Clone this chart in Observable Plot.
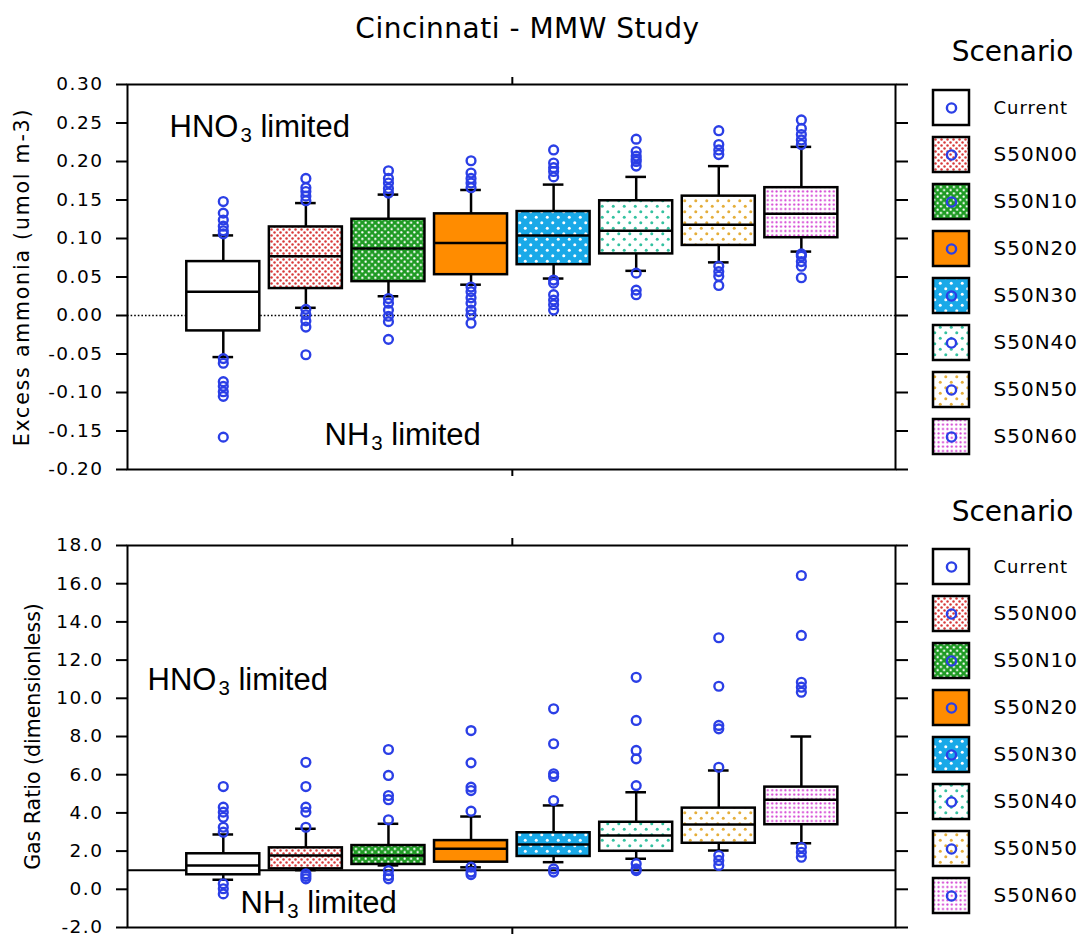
<!DOCTYPE html>
<html>
<head>
<meta charset="utf-8">
<script src="https://cdn.jsdelivr.net/npm/d3@7"></script>
<script src="https://cdn.jsdelivr.net/npm/@observablehq/plot@0.6"></script>
<style>
  html, body { margin: 0; padding: 0; background: #ffffff; overflow: hidden; }
  #root { position: relative; width: 1084px; height: 938px; }
  #root > svg { position: absolute; }
</style>
</head>
<body>
<div id="root"></div>
<script>
// ---------------- DATA ----------------
const scenarios = ["Current", "S50N00", "S50N10", "S50N20", "S50N30", "S50N40", "S50N50", "S50N60"];

// Panel 1: Excess ammonia (umol m-3)
const exWhiskerLow  = [-0.054, 0.010, 0.025, 0.040, 0.048, 0.058, 0.069, 0.083];
const exQ1          = [-0.020, 0.035, 0.044, 0.053, 0.066, 0.080, 0.091, 0.101];
const exMedian      = [ 0.031, 0.077, 0.087, 0.094, 0.104, 0.110, 0.118, 0.132];
const exQ3          = [ 0.070, 0.115, 0.125, 0.132, 0.135, 0.149, 0.155, 0.166];
const exWhiskerHigh = [ 0.104, 0.146, 0.157, 0.163, 0.170, 0.180, 0.194, 0.219];
const exOutliers = [
  [0.148, 0.133, 0.124, 0.116, 0.110, 0.106, -0.056, -0.062, -0.086, -0.092, -0.099, -0.105, -0.158],
  [0.178, 0.166, 0.161, 0.155, 0.149, 0.008, 0.001, -0.007, -0.015, -0.051],
  [0.188, 0.178, 0.172, 0.165, 0.159, 0.022, 0.016, 0.007, -0.001, -0.008, -0.031],
  [0.201, 0.185, 0.178, 0.172, 0.166, 0.037, 0.031, 0.023, 0.016, 0.007, 0.001, -0.010],
  [0.215, 0.198, 0.192, 0.187, 0.180, 0.046, 0.042, 0.027, 0.020, 0.014, 0.007],
  [0.229, 0.213, 0.207, 0.203, 0.200, 0.194, 0.055, 0.033, 0.027],
  [0.240, 0.222, 0.215, 0.209, 0.064, 0.057, 0.051, 0.039],
  [0.254, 0.243, 0.235, 0.228, 0.222, 0.080, 0.077, 0.070, 0.064, 0.049]
];
const exTicks = [-0.20, -0.15, -0.10, -0.05, 0.00, 0.05, 0.10, 0.15, 0.20, 0.25, 0.30];

// Panel 2: Gas Ratio (dimensionless)
const grWhiskerLow  = [0.50, 1.00, 1.25, 1.15, 1.42, 1.60, 2.03, 2.41];
const grQ1          = [0.76, 1.07, 1.30, 1.42, 1.72, 1.99, 2.41, 3.38];
const grMedian      = [1.25, 1.77, 1.77, 2.12, 2.35, 2.82, 3.39, 4.69];
const grQ3          = [1.86, 2.17, 2.29, 2.55, 2.96, 3.51, 4.25, 5.35];
const grWhiskerHigh = [2.87, 3.17, 3.43, 3.81, 4.39, 5.08, 6.22, 8.00];
const grOutliers = [
  [5.38, 4.30, 4.04, 3.77, 3.25, 2.99, 0.29, 0.03, -0.24],
  [6.65, 5.38, 4.30, 4.04, 3.25, 0.81, 0.68, 0.55],
  [7.32, 5.96, 4.91, 4.69, 3.64, 0.98, 0.72, 0.55],
  [8.31, 6.62, 5.35, 5.17, 4.09, 1.16, 0.90, 0.77],
  [9.45, 7.62, 6.05, 5.91, 4.65, 1.07, 0.90],
  [11.10, 8.84, 7.27, 6.83, 5.43, 1.34, 1.07, 0.98],
  [13.17, 10.63, 8.58, 8.40, 6.39, 1.77, 1.51, 1.25],
  [16.43, 13.29, 10.84, 10.58, 10.32, 2.20, 1.94, 1.68]
];
const grTicks = [-2, 0, 2, 4, 6, 8, 10, 12, 14, 16, 18];

const chartTitle = "Cincinnati - MMW Study";
const legendTitle = "Scenario";

// ---------------- STYLES ----------------
const FONT = '"DejaVu Sans", "Liberation Sans", sans-serif';
const ANNOT_FONT = '"Liberation Sans", Arial, sans-serif';
const OUTLIER_BLUE = "#2b3fe6";
const SW = 2.5;
const patterns = [
  {bg: "#ffffff"},
  {bg: "#ffffff", dot: "#d83a3a", step: 6, r: 1.25, stagger: true},
  {bg: "#1f9b24", dot: "#ffffff", step: 6.5, r: 1.15, stagger: true},
  {bg: "#ff8c00"},
  {bg: "#19a9e8", dot: "#ffffff", step: 11, r: 1.5, stagger: true},
  {bg: "#ffffff", dot: "#33c2a0", step: 11, r: 1.5, stagger: true},
  {bg: "#ffffff", dot: "#e5ae3a", step: 11, r: 1.5, stagger: true},
  {bg: "#ffffff", dot: "#d23cd2", step: 4.4, r: 1.05, stagger: false}
];

const root = d3.select("#root");

// pattern definitions shared by all SVGs
const defs = root.append("svg").attr("width", 0).attr("height", 0).style("left", "0px").style("top", "0px").append("defs");
patterns.forEach((p, i) => {
  const s = p.step || 10;
  const pat = defs.append("pattern").attr("id", `pat-${i}`).attr("patternUnits", "userSpaceOnUse")
    .attr("width", s).attr("height", s);
  pat.append("rect").attr("width", s).attr("height", s).attr("fill", p.bg);
  if (p.dot) {
    if (p.stagger) {
      pat.append("circle").attr("cx", s / 4).attr("cy", s / 4).attr("r", p.r).attr("fill", p.dot);
      pat.append("circle").attr("cx", 3 * s / 4).attr("cy", 3 * s / 4).attr("r", p.r).attr("fill", p.dot);
    } else {
      pat.append("circle").attr("cx", s / 2).attr("cy", s / 2).attr("r", p.r).attr("fill", p.dot);
    }
  }
});

function subscriptify(svg) {
  const ns = "http://www.w3.org/2000/svg";
  svg.querySelectorAll("text").forEach(t => {
    const m = t.textContent.match(/^(HNO|NH)3( limited)$/);
    if (!m) return;
    t.textContent = "";
    const a = document.createElementNS(ns, "tspan"); a.textContent = m[1];
    const b = document.createElementNS(ns, "tspan"); b.textContent = "3";
    b.setAttribute("font-size", "0.66em"); b.setAttribute("dy", "5"); b.setAttribute("dx", "2");
    const c = document.createElementNS(ns, "tspan"); c.textContent = m[2];
    c.setAttribute("dy", "-5");
    t.appendChild(a); t.appendChild(b); t.appendChild(c);
  });
}

function boxPanel(cfg) {
  const rows = scenarios.map((s, i) => ({
    scenario: s, pos: i + 1,
    low: cfg.low[i], q1: cfg.q1[i], med: cfg.med[i], q3: cfg.q3[i], high: cfg.high[i],
    fill: `url(#pat-${i})`
  }));
  const pts = scenarios.flatMap((s, i) => cfg.outliers[i].map(v => ({scenario: s, pos: i + 1, v})));
  const HB = 0.442, HC = 0.125;
  const marks = [
    Plot.ruleY([cfg.ref], {stroke: "black", strokeWidth: cfg.refWidth, strokeDasharray: cfg.refDash}),
    Plot.ruleX(rows, {x: "pos", y1: "low", y2: "q1", stroke: "black", strokeWidth: SW}),
    Plot.ruleX(rows, {x: "pos", y1: "q3", y2: "high", stroke: "black", strokeWidth: SW}),
    Plot.ruleY(rows, {y: "low", x1: d => d.pos - HC, x2: d => d.pos + HC, stroke: "black", strokeWidth: SW}),
    Plot.ruleY(rows, {y: "high", x1: d => d.pos - HC, x2: d => d.pos + HC, stroke: "black", strokeWidth: SW}),
    Plot.rect(rows, {x1: d => d.pos - HB, x2: d => d.pos + HB, y1: "q1", y2: "q3", fill: "fill", stroke: "black", strokeWidth: SW}),
    Plot.ruleY(rows, {y: "med", x1: d => d.pos - HB, x2: d => d.pos + HB, stroke: "black", strokeWidth: SW}),
    Plot.dot(pts, {x: "pos", y: "v", r: 4.4, stroke: OUTLIER_BLUE, strokeWidth: 2.4, fill: "none"}),
    Plot.axisY(cfg.ticks, {anchor: "left", tickSize: 11, tickPadding: 13, strokeWidth: 2, tickFormat: cfg.fmt, label: null}),
    Plot.axisY(cfg.ticks, {anchor: "right", tickSize: 12, strokeWidth: 2, tickFormat: () => "", label: null}),
    Plot.axisX([4.5], {anchor: "bottom", tickSize: 7, strokeWidth: 2, tickFormat: () => "", label: null}),
    Plot.axisX([4.5], {anchor: "top", tickSize: 8, strokeWidth: 2, tickFormat: () => "", label: null}),
    Plot.frame({stroke: "black", strokeWidth: 2}),
    Plot.text([cfg.ylabel], {text: d => d, frameAnchor: "left", rotate: -90, dx: cfg.ylabelDx, textAnchor: "middle", lineAnchor: "middle", fontSize: 20.5}),
    Plot.text(["HNO3 limited"], {text: d => d, frameAnchor: "top-left", dx: cfg.hno3[0], dy: cfg.hno3[1], textAnchor: "start", lineAnchor: "bottom", fontSize: 31, fontFamily: ANNOT_FONT}),
    Plot.text(["NH3 limited"], {text: d => d, frameAnchor: "top-left", dx: cfg.nh3[0], dy: cfg.nh3[1], textAnchor: "start", lineAnchor: "bottom", fontSize: 31, fontFamily: ANNOT_FONT})
  ];
  if (cfg.title) {
    marks.push(Plot.text([cfg.title], {text: d => d, frameAnchor: "top", dx: 16, dy: -47, textAnchor: "middle", lineAnchor: "bottom", fontSize: 28}));
  }
  const svg = Plot.plot({
    width: 910, height: cfg.height,
    marginLeft: 127, marginRight: 15, marginTop: cfg.mt, marginBottom: cfg.mb,
    style: {fontFamily: FONT, fontSize: "18.5px", background: "transparent", color: "black", overflow: "visible"},
    x: {domain: [-0.16, 9.14]},
    y: {domain: cfg.domain},
    color: {type: "identity"},
    marks
  });
  d3.select(svg).selectAll('g[aria-label="y-axis tick label"] text').style("letter-spacing", "1.5px");
  d3.select(svg).selectAll("text").filter(function () { return this.textContent === cfg.ylabel; })
    .style("letter-spacing", cfg.ylabelSpacing);
  d3.select(svg).selectAll("text").filter(function () { return this.textContent === chartTitle; })
    .style("letter-spacing", "0.5px");
  subscriptify(svg);
  return svg;
}

function legendPlot(top0, titleBaseline, height) {
  const rows = scenarios.map((s, i) => ({scenario: s, col: "swatch", fill: `url(#pat-${i})`}));
  const svg = Plot.plot({
    width: 174, height, margin: 0,
    style: {fontFamily: FONT, fontSize: "20px", background: "transparent", color: "black", overflow: "visible"},
    x: {type: "band", domain: ["swatch"], range: [23, 59], padding: 0, axis: null},
    y: {type: "band", domain: scenarios, range: [top0, top0 + 371.5], paddingInner: 0.248, paddingOuter: 0, axis: null},
    color: {type: "identity"},
    marks: [
      Plot.cell(rows, {x: "col", y: "scenario", fill: "fill", stroke: "black", strokeWidth: SW, inset: 0}),
      Plot.dot(rows, {x: "col", y: "scenario", r: 4.6, stroke: OUTLIER_BLUE, strokeWidth: 2.4, fill: "none"}),
      Plot.text(rows, {x: "col", y: "scenario", text: "scenario", textAnchor: "start", dx: 42, fontSize: d => d.scenario === "Current" ? 18 : 20}),
      Plot.text([legendTitle], {text: d => d, frameAnchor: "top-left", dx: 102, dy: titleBaseline, textAnchor: "middle", lineAnchor: "bottom", fontSize: 28})
    ]
  });
  d3.select(svg).selectAll("text").filter(function () { return this.textContent !== legendTitle; })
    .style("letter-spacing", "1px");
  return svg;
}

// ---------------- BUILD ----------------
const topPanel = boxPanel({
  low: exWhiskerLow, q1: exQ1, med: exMedian, q3: exQ3, high: exWhiskerHigh, outliers: exOutliers,
  domain: [-0.2, 0.3], ticks: exTicks, fmt: d => d.toFixed(2),
  ref: 0, refWidth: 1.6, refDash: "1.6,2",
  height: 480, mt: 84, mb: 11,
  ylabel: "Excess ammonia (umol m-3)", ylabelDx: -105, ylabelSpacing: "1.8px",
  hno3: [42, 52], nh3: [197, 360],
  title: chartTitle
});
topPanel.style.left = "0px"; topPanel.style.top = "0px";
root.node().appendChild(topPanel);

const bottomPanel = boxPanel({
  low: grWhiskerLow, q1: grQ1, med: grMedian, q3: grQ3, high: grWhiskerHigh, outliers: grOutliers,
  domain: [-2, 18], ticks: grTicks, fmt: d => d.toFixed(1),
  ref: 1, refWidth: 2, refDash: null,
  height: 458, mt: 65, mb: 11,
  ylabel: "Gas Ratio (dimensionless)", ylabelDx: -94, ylabelSpacing: "0px",
  hno3: [20, 144], nh3: [113, 367]
});
bottomPanel.style.left = "0px"; bottomPanel.style.top = "480px";
root.node().appendChild(bottomPanel);

const legendTop = legendPlot(86.5, 60, 480);
legendTop.style.left = "910px"; legendTop.style.top = "0px";
root.node().appendChild(legendTop);

const legendBottom = legendPlot(65, 40, 458);
legendBottom.style.left = "910px"; legendBottom.style.top = "480px";
root.node().appendChild(legendBottom);
</script>
</body>
</html>
